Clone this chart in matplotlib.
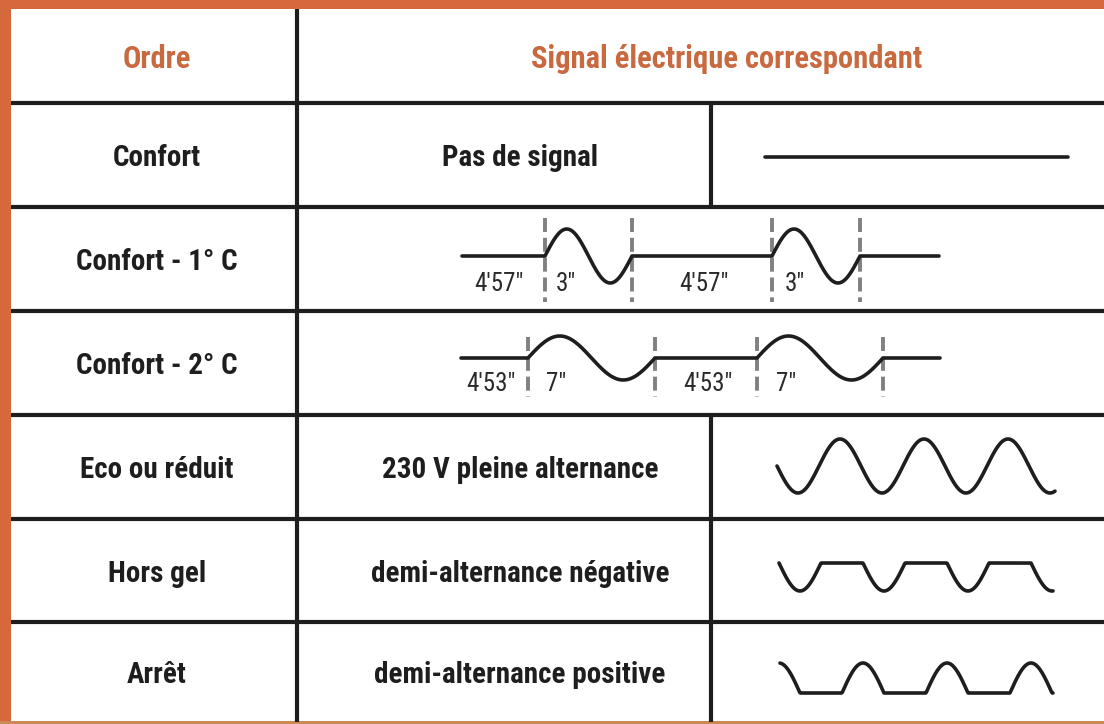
import numpy as np
import matplotlib
matplotlib.use("Agg")
import matplotlib.pyplot as plt
from matplotlib.patches import Rectangle
from matplotlib import font_manager as fm

# ---- table content ----
header_left = "Ordre"
header_right = "Signal électrique correspondant"
orders = ["Confort", "Confort - 1° C", "Confort - 2° C", "Eco ou réduit", "Hors gel", "Arrêt"]
descriptions = ["Pas de signal", None, None, "230 V pleine alternance",
                "demi-alternance négative", "demi-alternance positive"]
pause_1 = "4′57″"
pulse_1 = "3″"
pause_2 = "4′53″"
pulse_2 = "7″"

ORANGE = "#D5693B"
HEAD = "#C9693F"
INK = "#1E1E1E"

available = {f.name for f in fm.fontManager.ttflist}
candidates = ["Roboto Condensed", "Liberation Sans Narrow", "Archivo Narrow",
              "Asap Condensed", "Encode Sans Condensed", "Barlow Semi Condensed"]
cond = [c for c in candidates if c in available][:1]
FONT = cond + ["DejaVu Sans"]

W, H = 1104, 724
fig = plt.figure(figsize=(W / 100, H / 100), dpi=100)
ax = fig.add_axes([0, 0, 1, 1])
ax.set_xlim(0, W)
ax.set_ylim(H, 0)
ax.axis("off")

# borders
ax.add_patch(Rectangle((0, 0), W, 9, color=ORANGE, lw=0))
ax.add_patch(Rectangle((0, 0), 11, H, color=ORANGE, lw=0))
ax.add_patch(Rectangle((0, 721), W, 3, color="#C98A55", lw=0))

# grid
row_edges = [9, 103, 207, 311, 415, 519, 622, 722]
col1 = 297
col2 = 711
LW = 3.0
for y in row_edges[1:-1]:
    ax.plot([11, W], [y, y], color=INK, lw=LW, solid_capstyle="butt")
ax.plot([col1, col1], [9, 722], color=INK, lw=LW, solid_capstyle="butt")
ax.plot([col2, col2], [103, 207], color=INK, lw=LW, solid_capstyle="butt")
ax.plot([col2, col2], [415, 722], color=INK, lw=LW, solid_capstyle="butt")

centers = [(row_edges[i] + row_edges[i + 1]) / 2 for i in range(len(row_edges) - 1)]

FS = 21
DY = 3
# header
ax.text(157, centers[0] + DY, header_left, ha="center", va="center", fontsize=22,
        color=HEAD, family=FONT, fontweight="semibold")
ax.text(727, centers[0] + DY, header_right, ha="center", va="center", fontsize=22,
        color=HEAD, family=FONT, fontweight="semibold")

# order column + descriptions
for i, (o, d) in enumerate(zip(orders, descriptions)):
    yc = centers[i + 1] + DY
    ax.text(157, yc, o, ha="center", va="center", fontsize=FS, color=INK,
            family=FONT, fontweight="bold")
    if d:
        ax.text(520, yc, d, ha="center", va="center", fontsize=FS, color=INK,
                family=FONT, fontweight="bold")

WLW = 2.6

# row 1: flat line
ax.plot([765, 1068], [157, 157], color=INK, lw=WLW, solid_capstyle="round")


def pulse_row(base, amp, x0, marks, x1, dash_y, labels, label_x, label_y):
    xs, ys = [x0], [base]
    for a, b in [(marks[0], marks[1]), (marks[2], marks[3])]:
        t = np.linspace(a, b, 120)
        xs += list(t)
        ys += list(base - amp * np.sin(2 * np.pi * (t - a) / (b - a)))
    xs.append(x1)
    ys.append(base)
    for m in marks:
        ax.plot([m, m], dash_y, color="#808080", lw=2.8, linestyle=(0, (3.6, 1.5)))
    ax.plot(xs, ys, color=INK, lw=WLW, solid_joinstyle="round", solid_capstyle="round")
    for lab, lx in zip(labels, label_x):
        ax.text(lx, label_y + 2, lab, ha="center", va="center", fontsize=18,
                color="#2a2a2a", family=FONT)


pulse_row(256, 27, 462, [545, 632, 772, 860], 939, (218, 302),
          [pause_1, pulse_1, pause_1, pulse_1], [499, 566, 704, 795], 282)
pulse_row(358, 22, 461, [528, 655, 757, 883], 940, (337, 397),
          [pause_2, pulse_2, pause_2, pulse_2], [491, 556, 708, 786], 382)

P = 84.0
# row 4: full sine
x = np.linspace(777, 1055, 400)
ax.plot(x, 466 + 27 * np.sin(2 * np.pi * (x - 777) / P), color=INK, lw=WLW,
        solid_capstyle="round")
# row 5: negative half-wave only
x = np.linspace(779, 1053, 400)
ax.plot(x, 563 + 28 * np.clip(np.sin(2 * np.pi * (x - 779) / P), 0, None),
        color=INK, lw=WLW, solid_capstyle="round", solid_joinstyle="round")
# row 6: positive half-wave only
x = np.linspace(780, 1053, 400)
ax.plot(x, 693 - 30 * np.clip(np.cos(2 * np.pi * (x - 863) / P), 0, None),
        color=INK, lw=WLW, solid_capstyle="round", solid_joinstyle="round")

fig.savefig("out.png", dpi=100, facecolor="white")
